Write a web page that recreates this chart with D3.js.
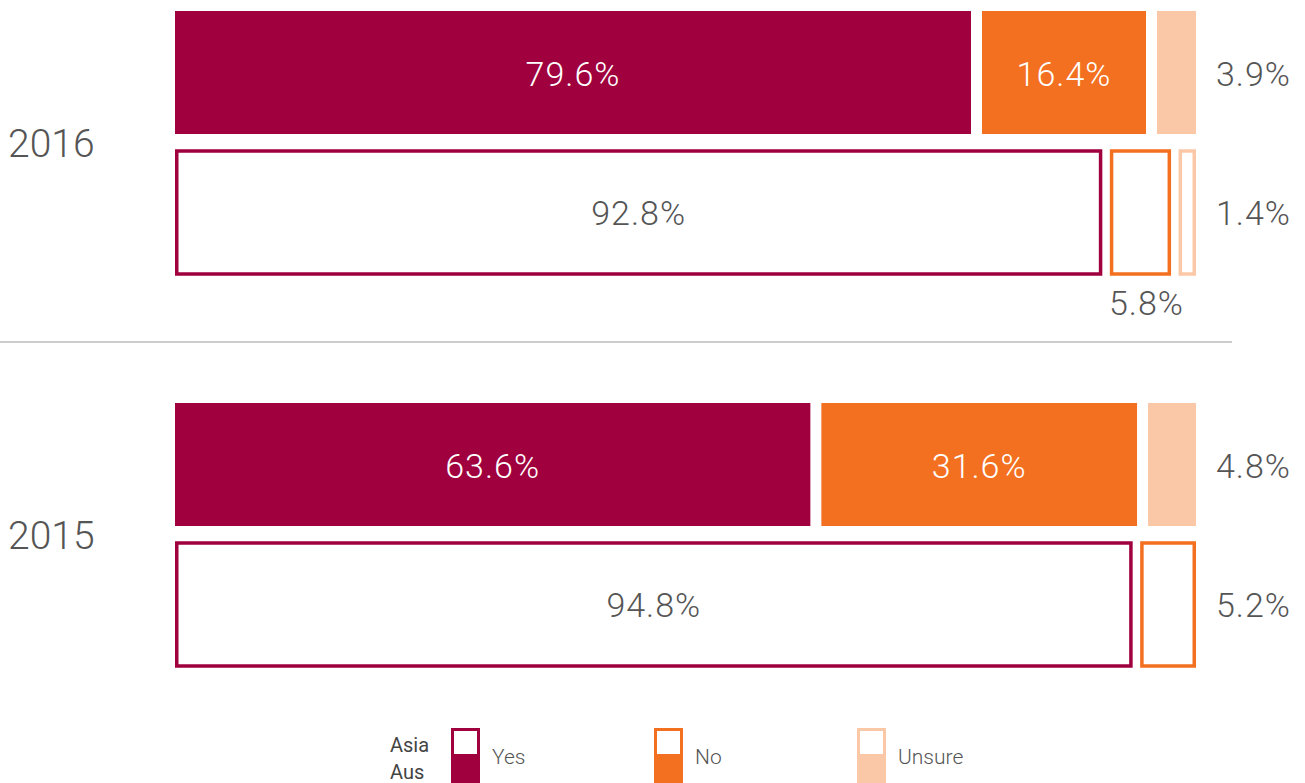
<!DOCTYPE html>
<html>
<head>
<meta charset="utf-8">
<script src="https://cdn.jsdelivr.net/npm/d3@7"></script>
<style>
  body { margin: 0; background: #fff; }
  text { font-family: Roboto, "Noto Sans", sans-serif; }
</style>
</head>
<body>
<div id="chart"></div>
<script>
// Data
const years = ["2016", "2015"];
const regions = ["Asia", "Aus"];
const answers = ["Yes", "No", "Unsure"];
const asiaValues = [[79.6, 16.4, 3.9], [63.6, 31.6, 4.8]];
const ausValues = [[92.8, 5.8, 1.4], [94.8, 5.2, 0]];

const colors = ["#a0003e", "#f37021", "#fbc8a7"];

const svgWidth = 1305;
const svgHeight = 783;

const svg = d3.select("#chart")
    .append("svg")
    .attr("width", svgWidth)
    .attr("height", svgHeight);

// Layout
const x0 = 175;
const barWidth = 1021;
const gap = 11;
const outlineGap = 11;

const yYear = d3.scaleBand().domain(years).range([11, 11 + 784]);
const yRegion = d3.scaleBand().domain(regions).range([0, 263]).paddingInner(0.1214);
const color = d3.scaleOrdinal().domain(answers).range(colors);

const labelGray = "#555";

years.forEach((year, yi) => {
    const g = svg.append("g")
        .attr("transform", `translate(0, ${yYear(year)})`);

    // year label
    g.append("text")
        .attr("x", 8)
        .attr("y", yRegion("Asia") + 146)
        .attr("font-size", 39)
        .attr("font-weight", 300)
        .attr("fill", labelGray)
        .text(year);

    regions.forEach(region => {
        const vals = region === "Asia" ? asiaValues[yi] : ausValues[yi];
        const filled = region === "Asia";
        const segGap = filled ? gap : outlineGap;
        const sw = filled ? 0 : 3.5;
        const y = yRegion(region);
        const h = yRegion.bandwidth();

        const shown = vals.map((v, i) => ({ answer: answers[i], value: v })).filter(d => d.value > 0);
        const total = d3.sum(shown, d => d.value);
        // each row fills the full bar width
        const x = d3.scaleLinear()
            .domain([0, total])
            .range([0, barWidth - sw - (shown.length - 1) * segGap]);

        let cum = 0;
        shown.forEach((d, i) => {
            d.x = x0 + sw / 2 + x(cum) + i * segGap;
            d.w = x(d.value);
            cum += d.value;
        });

        const bar = g.append("g");
        bar.selectAll("rect")
            .data(shown)
            .join("rect")
            .attr("x", d => d.x)
            .attr("y", y)
            .attr("width", d => d.w)
            .attr("height", h)
            .attr("fill", d => filled ? color(d.answer) : "#fff")
            .attr("stroke", d => filled ? "none" : color(d.answer))
            .attr("stroke-width", sw);

        shown.forEach((d, i) => {
            const last = i === shown.length - 1;
            const label = d.value.toFixed(1) + "%";
            let tx, ty, anchor, fill;
            if (d.w > 120) {
                tx = d.x + d.w / 2; ty = y + h / 2 + 13; anchor = "middle";
                fill = filled ? "#fff" : labelGray;
            } else if (last) {
                tx = 1216; ty = y + h / 2 + 13; anchor = "start"; fill = labelGray;
            } else {
                tx = d.x + d.w / 2 + 6; ty = y + h + 41; anchor = "middle"; fill = labelGray;
            }
            bar.append("text")
                .attr("x", tx)
                .attr("y", ty)
                .attr("text-anchor", anchor)
                .attr("font-size", 34)
                .attr("font-weight", 300)
                .attr("letter-spacing", 1)
                .attr("fill", fill)
                .text(label);
        });
    });
});

// separator
svg.append("line")
    .attr("x1", 0).attr("x2", 1232)
    .attr("y1", 342).attr("y2", 342)
    .attr("stroke", "#bbb")
    .attr("stroke-width", 1.5);

// Legend
const legend = svg.append("g").attr("transform", "translate(390, 0)");
legend.selectAll("text.region")
    .data(regions)
    .join("text")
    .attr("class", "region")
    .attr("x", 0)
    .attr("y", (d, i) => 752 + i * 27)
    .attr("font-size", 20)
    .attr("fill", "#444")
    .text(d => d);

const items = legend.selectAll("g.item")
    .data(answers)
    .join("g")
    .attr("class", "item")
    .attr("transform", (d, i) => `translate(${61 + i * 203}, 0)`);

items.append("rect")
    .attr("x", 1.5).attr("y", 729.5)
    .attr("width", 26).attr("height", 26)
    .attr("fill", "#fff")
    .attr("stroke", d => color(d))
    .attr("stroke-width", 3);

items.append("rect")
    .attr("x", 0).attr("y", 756)
    .attr("width", 29).attr("height", 30)
    .attr("fill", d => color(d));

items.append("text")
    .attr("x", 41)
    .attr("y", 764)
    .attr("font-size", 21)
    .attr("font-weight", 300)
    .attr("fill", labelGray)
    .text(d => d);
</script>
</body>
</html>
